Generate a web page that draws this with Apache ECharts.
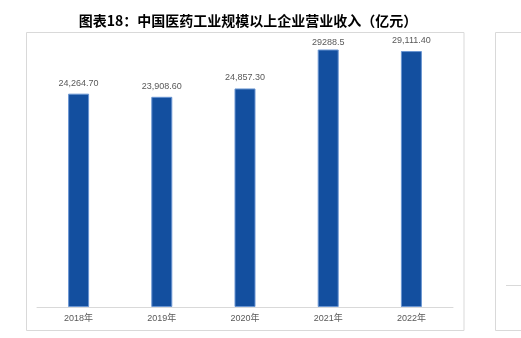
<!DOCTYPE html>
<html>
<head>
<meta charset="utf-8">
<script src="https://cdn.jsdelivr.net/npm/echarts@6/dist/echarts.min.js"></script>
<style>
  html, body { margin: 0; padding: 0; background: #ffffff; }
  #chart { width: 521px; height: 338px; }
</style>
</head>
<body>
<div id="chart"></div>
<script>
// Revenue of China's pharmaceutical industry above designated size (100 million yuan)
const categories = ['2018年', '2019年', '2020年', '2021年', '2022年'];
const revenue = [24264.70, 23908.60, 24857.30, 29288.5, 29111.40];
const valueLabels = ['24,264.70', '23,908.60', '24,857.30', '29288.5', '29,111.40'];
const titleText = '图表18：中国医药工业规模以上企业营业收入（亿元）';

const chart = echarts.init(document.getElementById('chart'), null, { renderer: 'canvas' });

// the tallest bar sits close to the frame, so its label hugs the bar
const barData = revenue.map(function (v, i) {
  return i === 3 ? { value: v, label: { distance: 2 } } : v;
});

chart.setOption({
  animation: false,
  backgroundColor: '#ffffff',
  title: {
    text: titleText,
    left: 243,
    top: 9,
    textAlign: 'center',
    textStyle: {
      fontFamily: '"Noto Sans CJK SC", sans-serif',
      fontSize: 14,
      fontWeight: 'bold',
      color: '#000000'
    }
  },
  graphic: [
    {
      type: 'rect',
      shape: { x: 26.5, y: 32.5, width: 437.5, height: 298 },
      style: { fill: 'none', stroke: '#d9d9d9', lineWidth: 1 },
      silent: true
    },
    {
      type: 'rect',
      shape: { x: 495.5, y: 32.5, width: 40, height: 298 },
      style: { fill: 'none', stroke: '#d9d9d9', lineWidth: 1 },
      silent: true
    },
    {
      type: 'line',
      shape: { x1: 506, y1: 285.5, x2: 521, y2: 285.5 },
      style: { stroke: '#d9d9d9', lineWidth: 1 },
      silent: true
    }
  ],
  grid: {
    left: 37,
    right: 68,
    top: 49.5,
    bottom: 31,
    containLabel: false
  },
  xAxis: {
    type: 'category',
    data: categories,
    axisLine: { show: true, lineStyle: { color: '#d9d9d9', width: 1 } },
    axisTick: { show: false },
    axisLabel: {
      margin: 7,
      fontSize: 9,
      color: '#595959',
      fontFamily: '"Liberation Sans", "Noto Sans CJK SC", sans-serif'
    }
  },
  yAxis: {
    type: 'value',
    min: 0,
    max: 29288.5,
    show: false,
    splitLine: { show: false }
  },
  series: [
    {
      type: 'bar',
      data: barData,
      barWidth: 21,
      itemStyle: {
        color: '#134f9f',
        borderColor: '#6a95d2',
        borderWidth: 1
      },
      label: {
        show: true,
        position: 'top',
        distance: 6,
        fontSize: 9,
        color: '#595959',
        fontFamily: '"Liberation Sans", sans-serif',
        formatter: function (p) { return valueLabels[p.dataIndex]; }
      }
    }
  ]
});
</script>
</body>
</html>
